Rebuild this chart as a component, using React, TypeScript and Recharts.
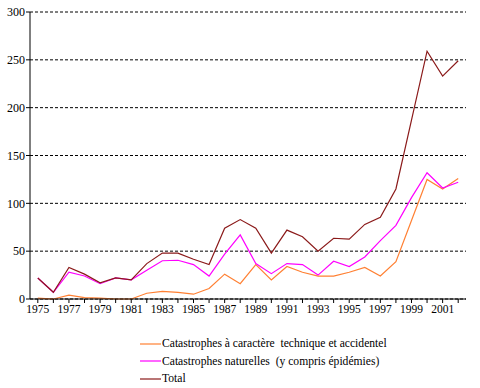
import { LineChart, Line, XAxis, YAxis, CartesianGrid, Legend } from "recharts";

const years = [
  "1975", "1976", "1977", "1978", "1979", "1980", "1981", "1982", "1983", "1984",
  "1985", "1986", "1987", "1988", "1989", "1990", "1991", "1992", "1993", "1994",
  "1995", "1996", "1997", "1998", "1999", "2000", "2001", "2002",
];

const technique = [
  1, 0, 4, 1.5, 1, 0, 0, 6, 8, 7, 5, 11, 26, 16, 36, 20, 34, 28, 24, 24, 28, 33, 24,
  39, 82, 125, 115, 126,
];

const naturelles = [
  22, 7, 28, 24, 16, 22, 20, 30, 40, 40.5, 36, 24, 47, 67, 37, 26.5, 37, 36, 25, 39.5,
  34, 44, 61, 77, 106, 132, 116, 122,
];

const total = [
  22, 7, 33, 26, 17, 22, 20, 37, 48, 48, 41.5, 36, 74, 83, 74, 48, 72, 65, 50, 63.5,
  62.5, 78, 85.5, 115, 187, 259, 233, 249,
];

const yTicks = [0, 50, 100, 150, 200, 250, 300];

const series = [
  { key: "technique", name: "Catastrophes à caractère  technique et accidentel", color: "#FF8033" },
  { key: "naturelles", name: "Catastrophes naturelles  (y compris épidémies)", color: "#FF00FF" },
  { key: "total", name: "Total", color: "#8B1A1A" },
];

const data = years.map((year, i) => ({
  year,
  technique: technique[i],
  naturelles: naturelles[i],
  total: total[i],
}));

const FONT = "Liberation Serif";

// labels only every other year, tick marks on every category
function XTick(props: any) {
  const { x, y, payload, index } = props;
  if (index % 2 !== 0) return null;
  return (
    <text x={x} y={y} dy={10} textAnchor="middle" fontSize={11.5} fontFamily={FONT} fill="#000">
      {payload.value}
    </text>
  );
}

function LegendBox() {
  return (
    <div style={{ paddingTop: 15, fontFamily: FONT, fontSize: 11.6, color: "#000", lineHeight: "17.5px" }}>
      {series.map((s) => (
        <div key={s.key} style={{ display: "flex", alignItems: "center", height: 17.5 }}>
          <svg width={22} height={4} style={{ display: "block" }}>
            <line x1={0} y1={2} x2={21} y2={2} stroke={s.color} strokeWidth={1.2} />
          </svg>
          <span style={{ whiteSpace: "pre" }}>{s.name}</span>
        </div>
      ))}
    </div>
  );
}

export default function App() {
  return (
    <div style={{ position: "absolute", left: 0, top: 0, width: 480, height: 388, background: "#fff" }}>
      <LineChart width={480} height={388} data={data} margin={{ top: 12, right: 14, bottom: 0, left: 0 }}>
        <CartesianGrid vertical={false} stroke="#000" strokeDasharray="3 2" />
        <XAxis
          dataKey="year"
          interval={0}
          height={21}
          padding={{ left: 7.8, right: 7.8 }}
          axisLine={{ stroke: "#000" }}
          tickLine={{ stroke: "#000" }}
          tickSize={4}
          tickMargin={0}
          tick={<XTick />}
        />
        <YAxis
          width={30}
          domain={[0, 300]}
          ticks={yTicks}
          interval={0}
          axisLine={{ stroke: "#000" }}
          tickLine={{ stroke: "#000" }}
          tickSize={4}
          tickMargin={1}
          tick={{ fontSize: 12, fontFamily: FONT, fill: "#000" }}
        />
        <Legend
          verticalAlign="bottom"
          align="left"
          wrapperStyle={{ left: 140, width: 320, height: 68 }}
          content={<LegendBox />}
        />
        {series.map((s) => (
          <Line
            key={s.key}
            type="linear"
            dataKey={s.key}
            name={s.name}
            stroke={s.color}
            strokeWidth={1.2}
            dot={false}
            isAnimationActive={false}
          />
        ))}
      </LineChart>
    </div>
  );
}
